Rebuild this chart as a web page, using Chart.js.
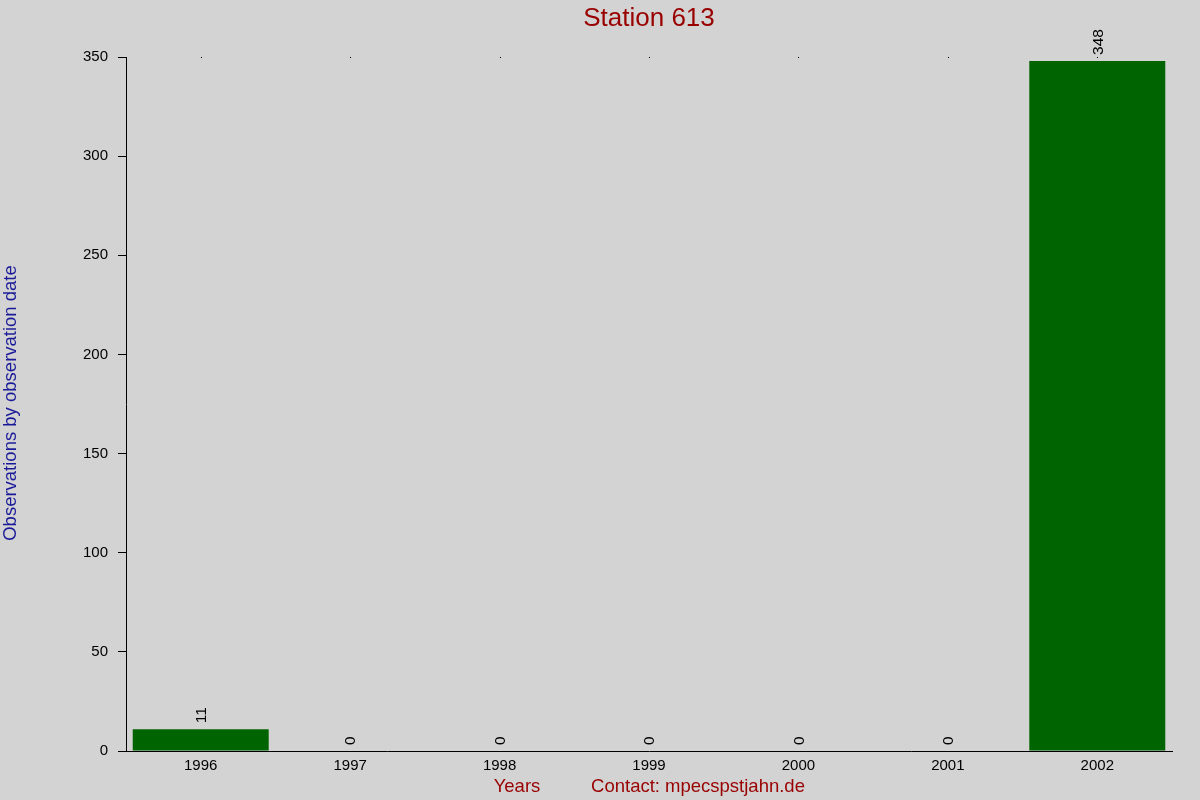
<!DOCTYPE html>
<html>
<head>
<meta charset="utf-8">
<title>Station 613</title>
<script src="https://cdn.jsdelivr.net/npm/chart.js@4/dist/chart.umd.min.js"></script>
<style>
  html, body { margin: 0; padding: 0; background: #d3d3d3; }
  canvas { display: block; }
</style>
</head>
<body>
<canvas id="stationChart" width="1200" height="800"></canvas>
<script>
// data
const years = ['1996', '1997', '1998', '1999', '2000', '2001', '2002'];
const observations = [11, 0, 0, 0, 0, 0, 348];
const yTicks = [0, 50, 100, 150, 200, 250, 300, 350];

const chartTitle = 'Station 613';
const yTitle = 'Observations by observation date';
const xTitle = 'Years';
const contactText = 'Contact: mpecspstjahn.de';

const FONT = '"Liberation Sans", Arial, sans-serif';

// background, titles, value labels and the little extras
const decorations = {
    id: 'decorations',
    beforeDraw(chart) {
        const ctx = chart.ctx;
        ctx.save();
        ctx.fillStyle = '#d3d3d3';
        ctx.fillRect(0, 0, chart.width, chart.height);
        ctx.restore();
    },
    afterDraw(chart) {
        const ctx = chart.ctx;
        const area = chart.chartArea;
        const xScale = chart.scales.x;
        ctx.save();

        // title
        ctx.fillStyle = '#990000';
        ctx.font = '26px ' + FONT;
        ctx.textAlign = 'center';
        ctx.textBaseline = 'middle';
        ctx.fillText(chartTitle, 649, 19);

        // x titles
        ctx.font = '18.5px ' + FONT;
        ctx.fillText(xTitle, 517, 787);
        ctx.fillText(contactText, 698, 787);

        // y title
        ctx.save();
        ctx.translate(11, 403);
        ctx.rotate(-Math.PI / 2);
        ctx.fillStyle = '#1a1a99';
        ctx.fillText(yTitle, 0, 0);
        ctx.restore();

        // tiny dots along the top at each category
        ctx.fillStyle = '#000';
        years.forEach((y, i) => {
            const x = Math.round(xScale.getPixelForValue(i));
            ctx.fillRect(x, area.top, 1, 1);
        });

        // rotated value labels
        const meta = chart.getDatasetMeta(0);
        ctx.font = '15.5px ' + FONT;
        ctx.textAlign = 'left';
        ctx.textBaseline = 'middle';
        meta.data.forEach((bar, i) => {
            ctx.save();
            ctx.translate(bar.x + 1, bar.y - 6);
            ctx.rotate(-Math.PI / 2);
            ctx.fillText(String(observations[i]), 0, 0);
            ctx.restore();
        });

        ctx.restore();
    }
};

const ctx = document.getElementById('stationChart').getContext('2d');
new Chart(ctx, {
    type: 'bar',
    data: {
        labels: years,
        datasets: [{
            label: yTitle,
            data: observations,
            backgroundColor: '#006400',
            borderWidth: 0,
            barPercentage: 0.91,
            categoryPercentage: 1.0
        }]
    },
    options: {
        responsive: false,
        animation: false,
        devicePixelRatio: 1,
        layout: {
            padding: { top: 57, right: 28, left: 0, bottom: 0 }
        },
        plugins: {
            legend: { display: false },
            title: { display: false },
            tooltip: { enabled: false }
        },
        scales: {
            x: {
                grid: { display: true, drawOnChartArea: false, drawTicks: false },
                border: { color: '#000', width: 1 },
                ticks: {
                    color: '#000',
                    font: { size: 15, family: FONT },
                    padding: 6,
                    maxRotation: 0
                },
                afterFit(scale) { scale.height = 49; }
            },
            y: {
                min: 0,
                max: 350,
                afterBuildTicks(scale) {
                    scale.ticks = yTicks.map(v => ({ value: v }));
                },
                grid: {
                    drawOnChartArea: false,
                    drawTicks: true,
                    tickLength: 8,
                    color: '#000'
                },
                border: { color: '#000', width: 1 },
                ticks: {
                    color: '#000',
                    font: { size: 15, family: FONT },
                    padding: 10
                },
                afterFit(scale) { scale.width = 126; }
            }
        }
    },
    plugins: [decorations]
});
</script>
</body>
</html>
